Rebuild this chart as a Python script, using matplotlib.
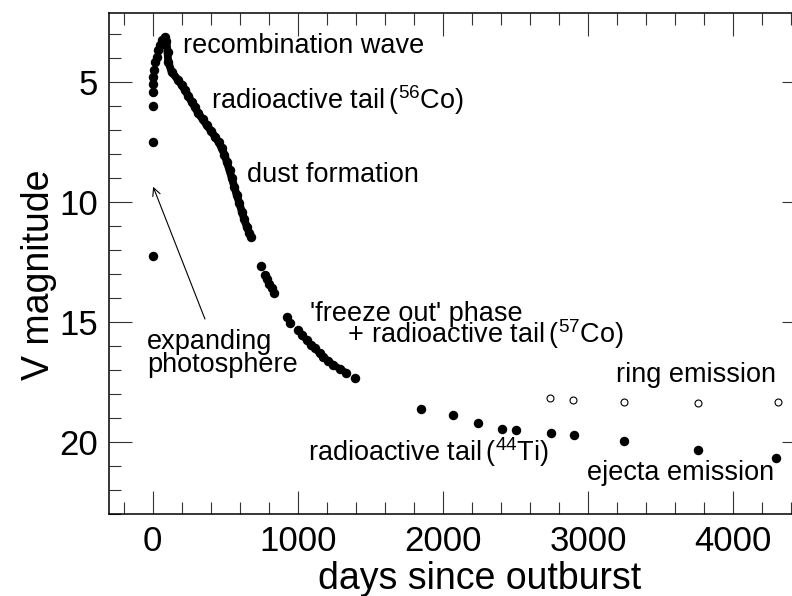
import numpy as np
import matplotlib
matplotlib.use("Agg")
from matplotlib import pyplot as plt
from matplotlib.ticker import MultipleLocator

plt.rcParams['font.family'] = ['Liberation Sans', 'DejaVu Sans']
plt.rcParams['mathtext.fontset'] = 'custom'
plt.rcParams['mathtext.rm'] = 'Liberation Sans'

# early rise (separate dots)
rise_days = [0, 0, 1, 2, 3, 4, 9, 16, 28, 39, 50, 66]
rise_mag = [12.25, 7.5, 6.0, 5.4, 5.06, 4.78, 4.5, 4.15, 3.95, 3.67, 3.46, 3.25]

# peak, recombination and 56Co tail (dense coverage)
peak_days = [85, 96, 103, 108, 131, 177, 200, 223, 246, 269, 292, 315, 345,
             373, 402, 431, 455, 477, 495, 511, 530, 546, 563, 580, 598, 615,
             632, 649, 665, 678]
peak_mag = [3.13, 3.3, 3.74, 4.15, 4.57, 4.92, 5.12, 5.33, 5.57, 5.82, 6.05,
            6.3, 6.55, 6.79, 7.03, 7.28, 7.5, 7.76, 8.02, 8.32, 8.68, 9.01,
            9.36, 9.71, 10.05, 10.4, 10.72, 11.03, 11.27, 11.45]

# nebular phase
neb_days = [745, 774, 790, 805, 820, 837, 924, 947, 1004, 1030, 1062, 1090,
            1119, 1150, 1177, 1210, 1246, 1290, 1333, 1395]
neb_mag = [12.65, 13.04, 13.2, 13.4, 13.6, 13.8, 14.78, 15.05, 15.33, 15.55,
           15.75, 15.95, 16.1, 16.3, 16.45, 16.62, 16.79, 16.95, 17.11, 17.32]

# late HST points: ejecta (filled) and ring (open)
tail_days = [1848, 2069, 2241, 2407, 2506, 2745, 2901, 3248, 3759, 4297]
tail_mag = [18.62, 18.89, 19.22, 19.44, 19.5, 19.61, 19.69, 19.97, 20.33, 20.65]
ring_days = [2735, 2894, 3246, 3759, 4308]
ring_mag = [18.18, 18.25, 18.32, 18.36, 18.35]

fig = plt.figure(figsize=(7.92, 5.96), dpi=100)
# right edge of the frame sits just outside the picture
ax = fig.add_axes([109/792, 82/596, 696/792, 501/596])

dot = dict(marker='o', ms=5.8, color='black', ls='none')
ax.plot(rise_days, rise_mag, **dot)
ax.plot(peak_days, peak_mag, color='black', lw=5.6, solid_capstyle='round')
ax.plot(peak_days, peak_mag, **dot)
ax.plot(neb_days, neb_mag, **dot)
ax.plot(neb_days[1:6], neb_mag[1:6], color='black', lw=4.5, solid_capstyle='round')
ax.plot(neb_days[8:19], neb_mag[8:19], color='black', lw=5.0, solid_capstyle='round')
ax.plot(tail_days, tail_mag, **dot)
ax.plot(ring_days, ring_mag, marker='o', ms=5, mfc='white', mec='black',
        mew=0.8, ls='none')

ax.set_xlim(-300, 4494)
ax.set_ylim(23.0, 2.12)
ax.xaxis.set_major_locator(MultipleLocator(1000))
ax.xaxis.set_minor_locator(MultipleLocator(200))
ax.yaxis.set_major_locator(MultipleLocator(5))
ax.yaxis.set_minor_locator(MultipleLocator(1))
ax.tick_params(which='both', direction='in', top=True, right=True,
               width=0.8, color='#333333', labelsize=25, pad=8)
ax.tick_params(which='major', length=16.5)
ax.tick_params(which='minor', length=8.6)
for s in ax.spines.values():
    s.set_linewidth(1.1)

ax.set_xlabel('days since outburst', fontsize=27)
ax.set_ylabel('V magnitude', fontsize=27)
ax.xaxis.set_label_coords((480-109)/696, -0.094)
ax.yaxis.set_label_coords((57-109)/696, 1-(275-13)/501)

fs = 19.5
ax.text(209, 3.79, 'recombination wave', fontsize=fs, va='baseline')
ax.text(402, 6.125, r'radioactive tail$\,$($^{56}$Co)', fontsize=fs, va='baseline')
ax.text(650, 9.15, 'dust formation', fontsize=fs, va='baseline')
ax.text(-39, 17.1, 'expanding\nphotosphere', fontsize=fs, va='baseline',
        linespacing=0.86)
ax.text(1085, 15.87, "'freeze out' phase\n     + radioactive tail$\\,$($^{57}$Co)",
        fontsize=fs, va='baseline', linespacing=0.62)
ax.text(1071, 20.79, r'radioactive tail$\,$($^{44}$Ti)', fontsize=fs, va='baseline')
ax.text(3190, 17.49, 'ring emission', fontsize=fs, va='baseline')
ax.text(2990, 21.58, 'ejecta emission', fontsize=fs, va='baseline')
ax.annotate('', xy=(4, 9.36), xytext=(361, 14.875),
            arrowprops=dict(arrowstyle='->', lw=0.8, color='black',
                            shrinkA=0, shrinkB=0, mutation_scale=14))

fig.savefig('out.png', dpi=100)
